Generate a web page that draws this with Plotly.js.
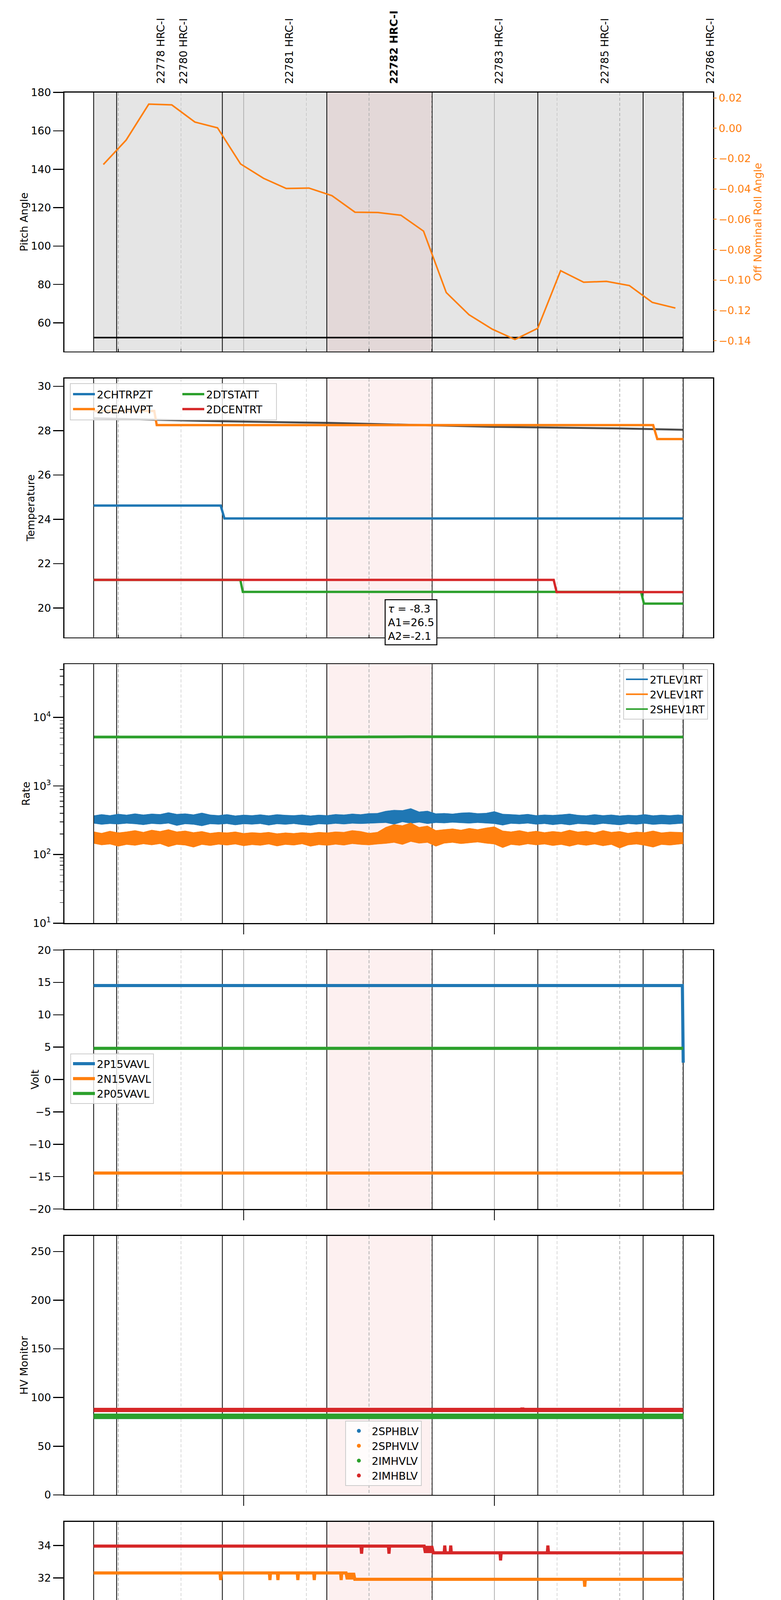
<!DOCTYPE html>
<html>
<head>
<meta charset="utf-8">
<script src="https://cdn.plot.ly/plotly-3.0.1.min.js"></script>
<style>body{margin:0;background:#fff}</style>
</head>
<body>
<div id="chart" style="width:2000px;height:5400px"></div>
<script>
// all times are minutes after 2020-03-23 02:00

// observations
var obsIds = ['22778', '22780', '22781', '22782', '22783', '22785', '22786'];
var obsStart = [24.1, 29.6, 54.9, 79.9, 105.1, 130.4, 155.6];
var obsStop = 165.2;
var obsHighlight = 3;

// panel 1: pitch / roll
var pitchT = [24.1, 165.2];
var pitchV = [52.3, 52.3];
var rollT = [26.42, 31.87, 37.29, 42.80, 48.32, 53.74, 59.25, 64.77, 70.19, 75.61, 81.12, 86.64, 92.12,
             97.62, 103.05, 108.49, 113.93, 119.50, 124.93, 130.37, 135.86, 141.37, 146.81, 152.32, 157.82, 163.33];
var rollV = [-0.0239, -0.0078, 0.0159, 0.0154, 0.0041, 0.0003, -0.0235, -0.0330, -0.0397, -0.0394, -0.0444, -0.0553, -0.0555,
             -0.0573, -0.0678, -0.1083, -0.1229, -0.1324, -0.1392, -0.1319, -0.0939, -0.1015, -0.1009, -0.1037, -0.1148, -0.1185];

// panel 2: temperature
var fitT = [24.1, 54.9, 79.9, 120, 150, 165.2];
var fitV = [28.56, 28.42, 28.35, 28.17, 28.10, 28.04];
var chtrT = [24.1, 54.5, 55.4, 165.2];
var chtrV = [24.62, 24.62, 24.04, 24.04];
var ceahT = [24.1, 38.6, 39.2, 158.0, 159.0, 165.2];
var ceahV = [28.89, 28.89, 28.25, 28.25, 27.62, 27.62];
var dtstT = [24.1, 59.2, 59.8, 155.1, 155.8, 165.2];
var dtstV = [21.27, 21.27, 20.73, 20.73, 20.20, 20.20];
var dcenT = [24.1, 134.2, 134.9, 165.2];
var dcenV = [21.27, 21.27, 20.72, 20.72];

// panel 3: rates (upper / lower edge of the noisy band)
var rateT = [24.2, 26, 28, 30, 32, 34, 36, 38, 40, 42, 44, 46, 48, 50, 52, 54, 56, 58, 60, 62, 64, 66, 68, 70,
             72, 74, 76, 78, 80, 82, 84, 86, 88, 90, 92, 94, 96, 98, 100, 102, 104, 106, 108, 110, 112, 114, 116, 118,
             120, 122, 124, 126, 128, 130, 132, 134, 136, 138, 140, 142, 144, 146, 148, 150, 152, 154, 156, 158, 160, 162, 164, 165.2];
var tlevHi = [370, 385, 372, 390, 378, 395, 380, 392, 386, 410, 388, 395, 382, 405, 380, 372, 385, 368, 378, 372,
              382, 370, 384, 376, 372, 380, 368, 378, 372, 386, 380, 392, 384, 398, 400, 430, 445, 440, 470, 420,
              432, 395, 400, 392, 405, 410, 398, 402, 425, 390, 385, 378, 388, 372, 380, 375, 382, 392, 376, 370,
              384, 372, 380, 368, 376, 372, 385, 370, 378, 372, 380, 372];
var tlevLo = [285, 275, 282, 278, 285, 280, 272, 283, 278, 286, 265, 280, 275, 262, 280, 276, 282, 270, 280, 276,
              282, 268, 280, 275, 282, 272, 266, 280, 276, 284, 278, 285, 282, 286, 290, 292, 276, 300, 285, 296,
              282, 292, 288, 295, 290, 286, 292, 288, 282, 268, 284, 280, 286, 276, 282, 272, 280, 270, 282, 278,
              272, 284, 278, 270, 282, 276, 284, 274, 280, 276, 282, 285];
var vlevHi = [215, 205, 220, 208, 215, 225, 212, 228, 218, 232, 215, 222, 210, 218, 205, 212, 208, 215, 204, 210,
              206, 212, 202, 208, 204, 210, 205, 212, 208, 215, 212, 225, 218, 205, 212, 250, 275, 265, 290, 250,
              262, 225, 232, 238, 228, 242, 232, 245, 255, 222, 215, 225, 212, 220, 210, 218, 212, 228, 214, 220,
              208, 225, 212, 218, 205, 214, 210, 222, 208, 214, 212, 210];
var vlevLo = [145, 138, 142, 132, 140, 136, 143, 138, 144, 130, 140, 137, 128, 140, 135, 141, 137, 142, 134, 139,
              136, 142, 133, 140, 137, 143, 132, 139, 136, 141, 137, 144, 140, 138, 142, 145, 150, 140, 155, 146,
              150, 132, 146, 150, 144, 148, 152, 146, 142, 126, 140, 136, 143, 138, 142, 135, 140, 132, 141, 136,
              142, 134, 140, 124, 138, 142, 136, 128, 140, 137, 141, 144];
var shevT = [24.2, 40, 60, 80, 100, 120, 140, 165.2];
var shevV = [5180, 5150, 5200, 5170, 5220, 5160, 5190, 5170];

// panel 4: volts
var p15T = [24.1, 165.0, 165.2];
var p15V = [14.52, 14.52, 2.6];
var n15T = [24.1, 165.2];
var n15V = [-14.45, -14.45];
var p05T = [24.1, 165.2];
var p05V = [4.82, 4.82];

// panel 5: HV monitor
var hvT = [24.1, 165.2];
var hvSphbV = [80.0, 80.0];
var hvSphvV = [80.4, 80.4];
var hvImhvV = [80.7, 80.7];
var hvImhbT = [24.1, 126.5, 126.7, 126.9, 165.2];
var hvImhbV = [87.2, 87.2, 88.8, 87.2, 87.2];

// panel 6: detector temp
var spinT = [24.1, 25.2, 25.4, 26.0, 26.2, 165.2];
var spinV = [21.67, 21.67, 22.46, 22.46, 21.67, 21.67];
var sphvT = [24.1, 54.35, 54.49, 54.63, 66.15, 66.29, 66.43, 68.06, 68.2, 68.34, 72.83, 72.97, 73.11, 76.76, 76.9, 77.04,
             83.2, 83.34, 83.48, 84.5, 84.8, 85.1, 85.4, 85.7, 86.0, 86.3, 86.6, 86.9, 141.49, 141.63, 141.77, 165.2];
var sphvV = [32.31, 32.31, 31.87, 32.31, 32.31, 31.87, 32.31, 32.31, 31.87, 32.31, 32.31, 31.87, 32.31, 32.31, 31.87, 32.31,
             32.31, 31.87, 32.31, 32.31, 31.92, 32.31, 31.92, 32.31, 31.92, 32.31, 31.92, 31.92, 31.92, 31.46, 31.92, 31.92];
var iminT = [24.1, 99.2, 99.5, 99.8, 100.1, 100.4, 100.7, 101.0, 101.3, 101.6, 101.9, 102.2, 102.5, 102.8, 103.1,
             103.4, 103.7, 104.0, 104.3, 165.2];
var iminV = [21.67, 21.67, 20.97, 21.67, 20.97, 21.67, 20.97, 21.67, 20.97, 21.67, 20.97, 21.67, 20.97, 21.67, 20.97,
             21.67, 20.97, 21.67, 20.97, 20.97];
var imhvT = [24.1, 88.08, 88.22, 88.36, 94.64, 94.78, 94.92, 103.2, 103.5, 103.8, 104.1, 104.4, 104.7, 105.0, 105.4,
             107.99, 108.13, 108.27, 109.42, 109.56, 109.7, 121.35, 121.49, 121.63, 132.67, 132.81, 132.95, 165.2];
var imhvV = [33.97, 33.97, 33.50, 33.97, 33.97, 33.50, 33.97, 33.97, 33.55, 33.97, 33.55, 33.97, 33.55, 33.97, 33.55,
             33.55, 34.0, 33.55, 33.55, 34.0, 33.55, 33.55, 33.08, 33.55, 33.55, 34.0, 33.55, 33.55];

// panel 7: FEA temp
var fhtrT = [24.1, 28.24, 28.38, 28.52, 87.61, 87.75, 87.89, 97.05, 97.64, 119.67, 119.81, 119.95, 165.2];
var fhtrV = [21.82, 21.82, 21.21, 21.82, 21.82, 19.12, 21.82, 21.82, 21.26, 21.26, 20.68, 21.26, 21.26];
var fradT = [24.1, 28.6, 28.9, 105.15, 105.63, 165.2];
var fradV = [17.18, 17.18, 16.67, 16.67, 16.19, 16.19];
var feprT = [24.1, 60.9, 61.2, 61.5, 61.8, 62.1, 62.4, 62.8, 165.2];
var feprV = [24.63, 24.63, 23.88, 24.63, 23.88, 24.63, 23.88, 23.88, 23.88];
var fe00T = [24.1, 25.5, 25.64, 25.78, 31.82, 31.96, 32.1, 44.69, 44.83, 44.97, 61.38, 61.52, 61.66, 68.3, 68.44, 68.58,
             69.87, 70.2, 70.5, 70.8, 71.1, 71.4, 71.7, 72.0, 72.3, 72.6, 72.9, 73.21, 73.9, 74.04, 74.18,
             83.08, 83.22, 83.36, 89.04, 89.18, 89.32, 92.37, 92.51, 92.65, 93.69, 93.83, 93.97, 96.91, 97.05, 97.19,
             98.93, 99.07, 99.21, 108.47, 108.61, 108.75, 112.4, 112.54, 112.68, 115.98, 116.12, 116.26,
             122.9, 123.04, 123.18, 129.33, 129.47, 129.61, 130.78, 131.1, 131.4, 131.7, 132.0, 132.3, 132.6,
             132.9, 133.2, 133.5, 133.8, 134.0, 165.2];
var fe00V = [21.71, 21.71, 22.39, 21.71, 21.71, 22.07, 21.71, 21.71, 21.36, 21.71, 21.71, 21.06, 21.71, 21.71, 21.36, 21.71,
             21.71, 21.39, 21.71, 21.39, 21.71, 21.39, 21.71, 21.39, 21.71, 21.39, 21.71, 21.39, 21.39, 21.75, 21.39,
             21.39, 20.74, 21.39, 21.39, 22.39, 21.39, 21.39, 21.75, 21.39, 21.39, 21.75, 21.39, 21.39, 20.45, 21.39,
             21.39, 21.05, 21.39, 21.39, 21.05, 21.39, 21.39, 21.75, 21.39, 21.39, 21.05, 21.39,
             21.39, 21.05, 21.39, 21.39, 20.74, 21.39, 21.39, 21.09, 21.39, 21.09, 21.39, 21.09, 21.39,
             21.09, 21.39, 21.09, 21.39, 21.09, 21.09];

// axis ticks
var quarterM = [30, 45, 75, 90, 105, 135, 150, 165];
var quarterLabels = ['30', '45', '15', '30', '45', '15', '30', '45'];
var hourM = [60, 120];
var hourLabels = ['03h', '04h'];

var BLUE = '#1f77b4', ORANGE = '#ff7f0e', GREEN = '#2ca02c', RED = '#d62728';

function pad(n) { return (n < 10 ? '0' : '') + n; }
function t(m) {
    var d = new Date(Date.UTC(2020, 2, 23) + Math.round((120 + m) * 60000));
    return '2020-03-23 ' + pad(d.getUTCHours()) + ':' + pad(d.getUTCMinutes()) + ':' + pad(d.getUTCSeconds()) +
        '.' + ('00' + d.getUTCMilliseconds()).slice(-3);
}

var ids = ['', '2', '3', '4', '5', '6', '7'];

function line(xs, ys, p, color, width, name, leg) {
    return {
        x: xs.map(t), y: ys, xaxis: 'x' + ids[p], yaxis: 'y' + ids[p],
        type: 'scatter', mode: 'lines', line: {color: color, width: width},
        name: name, legend: leg, showlegend: !!leg, hoverinfo: 'skip'
    };
}

function legendOnly(p, color, name, leg, mode) {
    return {
        x: [null], y: [null], xaxis: 'x' + ids[p], yaxis: 'y' + ids[p], type: 'scatter',
        mode: mode, line: {color: color, width: 4}, marker: {color: color, size: 10},
        name: name, legend: leg
    };
}

var data = [
    line(pitchT, pitchV, 0, '#000', 4),
    Object.assign(line(rollT, rollV, 0, ORANGE, 4), {yaxis: 'y8'}),

    line(fitT, fitV, 1, 'rgba(55,55,55,0.9)', 5),
    line(chtrT, chtrV, 1, BLUE, 6, '2CHTRPZT', 'legend'),
    line(ceahT, ceahV, 1, ORANGE, 6, '2CEAHVPT', 'legend'),
    line(dtstT, dtstV, 1, GREEN, 6, '2DTSTATT', 'legend2'),
    line(dcenT, dcenV, 1, RED, 6, '2DCENTRT', 'legend2'),

    line(rateT, tlevLo, 2, BLUE, 1),
    Object.assign(line(rateT, tlevHi, 2, BLUE, 1), {fill: 'tonexty', fillcolor: BLUE}),
    line(rateT, vlevLo, 2, ORANGE, 1),
    Object.assign(line(rateT, vlevHi, 2, ORANGE, 1), {fill: 'tonexty', fillcolor: ORANGE}),
    line(shevT, shevV, 2, GREEN, 7),
    legendOnly(2, BLUE, '2TLEV1RT', 'legend3', 'lines'),
    legendOnly(2, ORANGE, '2VLEV1RT', 'legend3', 'lines'),
    legendOnly(2, GREEN, '2SHEV1RT', 'legend3', 'lines'),

    line(p15T, p15V, 3, BLUE, 8, '2P15VAVL', 'legend4'),
    line(n15T, n15V, 3, ORANGE, 8, '2N15VAVL', 'legend4'),
    line(p05T, p05V, 3, GREEN, 8, '2P05VAVL', 'legend4'),

    line(hvT, hvSphbV, 4, BLUE, 10),
    line(hvT, hvSphvV, 4, ORANGE, 10),
    line(hvT, hvImhvV, 4, GREEN, 14),
    line(hvImhbT, hvImhbV, 4, RED, 11),
    legendOnly(4, BLUE, '2SPHBLV', 'legend5', 'markers'),
    legendOnly(4, ORANGE, '2SPHVLV', 'legend5', 'markers'),
    legendOnly(4, GREEN, '2IMHVLV', 'legend5', 'markers'),
    legendOnly(4, RED, '2IMHBLV', 'legend5', 'markers'),

    line(spinT, spinV, 5, BLUE, 8, '2SPINATM', 'legend6'),
    line(sphvT, sphvV, 5, ORANGE, 8, '2SPHVATM', 'legend6'),
    line(iminT, iminV, 5, GREEN, 8, '2IMINATM', 'legend6'),
    line(imhvT, imhvV, 5, RED, 8, '2IMHVATM', 'legend6'),

    line(fhtrT, fhtrV, 6, BLUE, 8, '2FHTRMZT', 'legend7'),
    line(fradT, fradV, 6, ORANGE, 8, '2FRADPYT', 'legend7'),
    line(feprT, feprV, 6, GREEN, 8, '2FEPRATM', 'legend7'),
    line(fe00T, fe00V, 6, RED, 8, '2FE00ATM', 'legend7'),

    // empty trace so the minute-label axis gets its own subplot
    {x: [null], y: [null], xaxis: 'x8', yaxis: 'y7', type: 'scatter', mode: 'lines', showlegend: false, hoverinfo: 'skip'}
];

// layout geometry (pixels of the 2000x5400 page)
var W = 2000, H = 5400;
var xDom = [164.5 / W, 1826 / W];
var top0 = 236.7, step = 731.8, panelH = 663;
function yDom(i) {
    var top = top0 + step * i;
    return [1 - (top + panelH) / H, 1 - top / H];
}

var xRange = [t(17.06), t(172.34)];
var gridGray = '#b3b3b3';

var ySpec = [
    {text: 'Pitch Angle', range: [45.1, 180], dtick: 20},
    {text: 'Temperature', range: [18.68, 30.36], dtick: 2},
    {text: 'Rate', range: [1, 4.776], type: 'log'},
    {text: 'Volt', range: [-20, 20], dtick: 5},
    {text: 'HV Monitor', range: [0, 266], dtick: 50},
    {text: 'Detector Temp', range: [19.48, 35.47], dtick: 2},
    {text: 'FEA Temp', range: [14.69, 26.13], dtick: 2}
];

var layout = {
    width: W, height: H,
    margin: {l: 0, r: 0, t: 0, b: 0, pad: 0},
    paper_bgcolor: '#fff', plot_bgcolor: '#fff',
    font: {family: 'DejaVu Sans, sans-serif', size: 27, color: '#000'},
    shapes: [], annotations: []
};

ids.forEach(function(s, i) {
    var longTicks = i >= 2;
    var xa = {
        domain: xDom, anchor: 'y' + s, type: 'date', range: xRange,
        tickmode: 'array', tickvals: hourM.map(t), ticktext: hourLabels,
        ticks: longTicks ? 'outside' : '', ticklen: 26, tickwidth: 2.5, tickcolor: '#000',
        showticklabels: false,
        showgrid: true, gridcolor: gridGray, gridwidth: 1.5,
        minor: {
            tickmode: 'array', tickvals: quarterM.map(t),
            ticks: i < 2 ? 'inside' : '', ticklen: 7, tickwidth: 1.5, tickcolor: '#000',
            showgrid: true, gridcolor: gridGray, gridwidth: 1.5, griddash: '8px,5px'
        },
        showline: true, mirror: true, linecolor: '#000', linewidth: 2.5, zeroline: false
    };
    if (i === 6) {
        xa.showticklabels = true;
        xa.tickfont = {size: 27};
        xa.ticklabelstandoff = 2;
        xa.title = {text: '2020-03-23 (083)', font: {size: 31}, standoff: 8};
    }
    layout['xaxis' + s] = xa;

    var sp = ySpec[i];
    var ya = {
        domain: yDom(i), anchor: 'x' + s, range: sp.range,
        ticks: 'outside', ticklen: 26, tickwidth: 2.5, tickcolor: '#000',
        tickfont: {size: 27},
        showline: true, mirror: true, linecolor: '#000', linewidth: 2.5,
        showgrid: false, zeroline: false,
        title: {text: sp.text, font: {size: 27}}
    };
    if (sp.type === 'log') {
        ya.type = 'log';
        ya.tickmode = 'array';
        ya.tickvals = [10, 100, 1000, 10000];
        ya.ticktext = ['10<sup>1</sup>', '10<sup>2</sup>', '10<sup>3</sup>', '10<sup>4</sup>'];
        ya.minor = {ticks: 'outside', ticklen: 9, tickwidth: 1.5, tickcolor: '#000', dtick: 'D1', showgrid: false};
    } else {
        ya.dtick = sp.dtick;
        ya.tick0 = 0;
    }
    layout['yaxis' + s] = ya;

    // observation shading and boundaries
    var hs = obsStart[obsHighlight], he = obsStart[obsHighlight + 1];
    if (i === 0) {
        layout.shapes.push({type: 'rect', xref: 'x', yref: 'y domain', x0: t(obsStart[0]), x1: t(obsStop),
            y0: 0, y1: 1, fillcolor: '#e5e5e5', line: {width: 0}, layer: 'below'});
    }
    layout.shapes.push({type: 'rect', xref: 'x' + s, yref: 'y' + s + ' domain', x0: t(hs), x1: t(he),
        y0: 0, y1: 1, fillcolor: i === 0 ? '#e3d8d8' : '#fdf0f0', line: {width: 0}, layer: 'below'});
    obsStart.concat([obsStop]).forEach(function(m) {
        layout.shapes.push({type: 'line', xref: 'x' + s, yref: 'y' + s + ' domain', x0: t(m), x1: t(m),
            y0: 0, y1: 1, line: {color: '#000', width: 2}, layer: 'below'});
    });
});

// minute labels under the bottom panel
layout.xaxis8 = {
    overlaying: 'x7', anchor: 'y7', side: 'bottom', type: 'date', range: xRange,
    tickmode: 'array', tickvals: quarterM.map(t), ticktext: quarterLabels,
    ticks: 'outside', ticklen: 4, tickwidth: 1.5, tickcolor: '#000',
    tickfont: {size: 20}, showgrid: false, showline: false, zeroline: false
};

// roll angle axis
layout.yaxis8 = {
    overlaying: 'y', anchor: 'x', side: 'right', range: [-0.1471, 0.0236],
    tickmode: 'array', tickvals: [-0.14, -0.12, -0.10, -0.08, -0.06, -0.04, -0.02, 0, 0.02],
    tickformat: '.2f', ticks: 'outside', ticklen: 8, tickwidth: 2, tickcolor: ORANGE,
    tickfont: {size: 27, color: ORANGE}, showgrid: false, zeroline: false, showline: false,
    title: {text: 'Off Nominal Roll Angle', font: {size: 27, color: ORANGE}}
};

// obsid labels above the top panel
obsIds.forEach(function(id, i) {
    var label = id + ' HRC-I';
    layout.annotations.push({
        xref: 'x', yref: 'paper', x: t(obsStart[i] + 16), y: 1 - 217 / H,
        xanchor: 'center', yanchor: 'bottom', textangle: -90, showarrow: false,
        text: i === obsHighlight ? '<b>' + label + '</b>' : label, font: {size: 27}
    });
});

// fit parameters box
layout.annotations.push({
    xref: 'paper', yref: 'paper', x: 985 / W, y: 1 - 1534 / H, xanchor: 'left', yanchor: 'top',
    showarrow: false, align: 'left', bgcolor: '#fff', bordercolor: '#000', borderwidth: 2.5, borderpad: 6,
    text: '<i>τ</i> = -8.3<br>A1=26.5<br>A2=-2.1', font: {size: 27}
});

// legends
var legBox = {bgcolor: 'rgba(255,255,255,0.8)', bordercolor: '#cccccc', borderwidth: 2, font: {size: 27},
    xanchor: 'left', yanchor: 'top', traceorder: 'normal', itemwidth: 56};
function leg(x, y, extra) { return Object.assign({}, legBox, {x: x, y: y}, extra || {}); }

layout.legend = leg(182 / W, 1 - 985 / H, {bgcolor: 'rgba(0,0,0,0)', borderwidth: 0});
layout.legend2 = leg(462 / W, 1 - 985 / H, {bgcolor: 'rgba(0,0,0,0)', borderwidth: 0});
layout.legend3 = leg(1813 / W, 1 - 1713 / H, {xanchor: 'right'});
layout.legend4 = leg(180 / W, 1 - 2697 / H);
layout.legend5 = leg(884 / W, 1 - 3637 / H);
layout.legend6 = leg(1814 / W, 1 - 4140 / H, {xanchor: 'right'});
layout.legend7 = leg(180 / W, 1 - 5101 / H);

// shared frame behind the two-column temperature legend
layout.shapes.push({type: 'rect', xref: 'paper', yref: 'paper', x0: 180 / W, x1: 708 / W,
    y0: 1 - 1075 / H, y1: 1 - 982 / H, fillcolor: 'rgba(255,255,255,0.8)',
    line: {color: '#cccccc', width: 2}, layer: 'above'});

Plotly.newPlot('chart', data, layout, {displayModeBar: false, staticPlot: true});
</script>
</body>
</html>
